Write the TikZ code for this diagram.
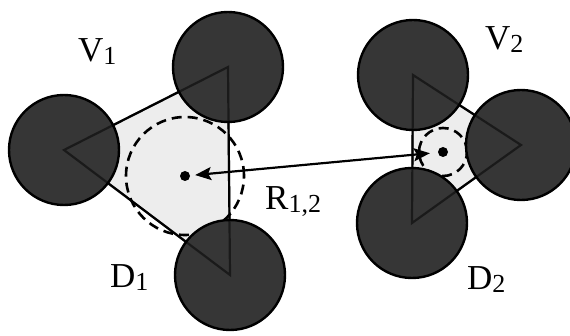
\documentclass[tikz,border=0pt]{standalone}
\usepackage{fontspec}
\setmainfont{Liberation Serif}
\usepackage{tikz}
\usetikzlibrary{arrows.meta}
\definecolor{spheregray}{HTML}{363636}
\definecolor{poregray}{HTML}{EDEDED}
\newcommand{\sub}[1]{\raisebox{-2.5pt}{\fontsize{26}{26}\selectfont #1}}

\begin{document}
\begin{tikzpicture}[>={Stealth[length=16pt,width=13pt,inset=3pt]},x=1pt,y=-1pt,
  edge/.style={line width=2.2pt},
  sphere/.style={fill=spheregray,draw=black,line width=2.4pt},
  throat/.style={line width=2.6pt,dash pattern=on 10pt off 6pt},
  dot/.style={circle,fill=black,inner sep=0pt,minimum size=10pt},
  lab/.style={font=\fontsize{35}{40}\selectfont,inner sep=0pt,anchor=base west}]
  \useasboundingbox (0,0) rectangle (570,336);
  % sphere centres
  \coordinate (l1) at (64,150);
  \coordinate (t1) at (228,67);
  \coordinate (b1) at (230,275);
  \coordinate (t2) at (413,75);
  \coordinate (b2) at (412,223);
  \coordinate (r2) at (521,145);
  % pore space between the spheres
  \fill[poregray] (l1) -- (t1) -- (b1) -- cycle;
  \fill[poregray] (t2) -- (r2) -- (b2) -- cycle;
  \node[dot] (c1) at (185,176) {};
  \node[dot] (c2) at (443,152) {};
  \draw[throat] (c1) circle (59pt);
  \draw[throat] (c2) circle (24pt);
  \draw[edge] (l1) -- (t1) -- (b1) -- cycle;
  \draw[edge] (t2) -- (r2) -- (b2) -- cycle;
  \foreach \p in {l1,t1,b1,t2,b2,r2}
    \filldraw[sphere] (\p) circle (55pt);
  \draw[edge,opacity=0.5] (l1) -- (t1) -- (b1) -- cycle;
  \draw[edge,opacity=0.5] (t2) -- (r2) -- (b2) -- cycle;
  \draw[<->,edge,shorten <=5pt,shorten >=8pt] (c1) -- (c2);
  \node[lab] (v1) at (78,62) {V\sub{1}};
  \node[lab] (d1) at (110,288) {D\sub{1}};
  \node[lab] (r12) at (265,210) {R\sub{1,2}};
  \node[lab] (v2) at (485,50) {V\sub{2}};
  \node[lab] (d2) at (467,290) {D\sub{2}};
\end{tikzpicture}
\end{document}
